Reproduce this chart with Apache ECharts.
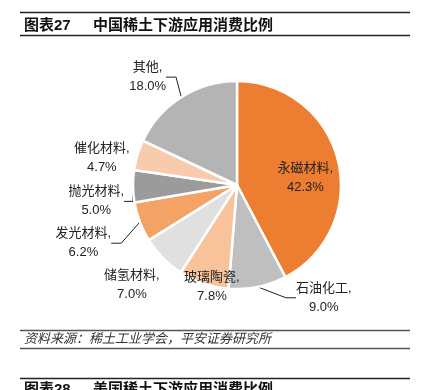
<!DOCTYPE html>
<html>
<head>
<meta charset="utf-8">
<script src="https://cdn.jsdelivr.net/npm/echarts@6/dist/echarts.min.js"></script>
<style>
html, body { margin: 0; padding: 0; background: #fff; }
#main { width: 426px; height: 390px; }
</style>
</head>
<body>
<div id="main"></div>
<script>
// 数据
var categories = ['永磁材料', '石油化工', '玻璃陶瓷', '储氢材料', '发光材料', '抛光材料', '催化材料', '其他'];
var shares = [42.3, 9.0, 7.8, 7.0, 6.2, 5.0, 4.7, 18.0];
var sliceColors = ['#ED7D31', '#BFBFBF', '#F8C39B', '#E0E0E0', '#F4A366', '#9B9B9B', '#F8CBAD', '#B4B4B4'];
// 标签微调（相对默认位置的偏移）和是否显示引导线
var labelShift = [[15, 6], [22, 5], [53, -2], [16, 23], [-8, 19], [12, 15], [13, 5], [3, -15]];
var showLeader = [false, true, false, false, true, true, false, true];

var FONT = 'Liberation Sans, Noto Sans CJK SC, sans-serif';
var myChart = echarts.init(document.getElementById('main'));

var pieData = categories.map(function (name, i) {
  var item = {
    name: name,
    value: shares[i],
    itemStyle: { color: sliceColors[i] },
    labelLine: { show: showLeader[i] }
  };
  if (i === 0) {
    item.label = { position: 'inside' };
  }
  return item;
});

var option = {
  animation: false,
  backgroundColor: '#fff',
  graphic: [
    { type: 'line', shape: { x1: 20, y1: 12.5, x2: 410, y2: 12.5 }, style: { stroke: '#222', lineWidth: 1.5 } },
    { type: 'text', left: 24, top: 18, style: { text: '图表27', font: 'bold 15px ' + FONT, fill: '#111' } },
    { type: 'text', left: 93, top: 18, style: { text: '中国稀土下游应用消费比例', font: 'bold 15px ' + FONT, fill: '#111' } },
    { type: 'line', shape: { x1: 20, y1: 35.5, x2: 410, y2: 35.5 }, style: { stroke: '#222', lineWidth: 1.5 } },
    { type: 'line', shape: { x1: 20, y1: 330.5, x2: 410, y2: 330.5 }, style: { stroke: '#555', lineWidth: 1.5 } },
    { type: 'text', left: 24, top: 333, style: { text: '资料来源：稀土工业学会，平安证券研究所', font: 'italic 13px ' + FONT, fill: '#333' } },
    { type: 'line', shape: { x1: 20, y1: 348.5, x2: 410, y2: 348.5 }, style: { stroke: '#555', lineWidth: 1.5 } },
    { type: 'line', shape: { x1: 20, y1: 378.5, x2: 410, y2: 378.5 }, style: { stroke: '#222', lineWidth: 1.5 } },
    { type: 'text', left: 24, top: 382, style: { text: '图表28', font: 'bold 15px ' + FONT, fill: '#111' } },
    { type: 'text', left: 93, top: 382, style: { text: '美国稀土下游应用消费比例', font: 'bold 15px ' + FONT, fill: '#111' } }
  ],
  series: [{
    type: 'pie',
    center: [237, 185],
    radius: 104,
    startAngle: 90,
    clockwise: true,
    avoidLabelOverlap: false,
    itemStyle: { borderColor: '#fff', borderWidth: 2.5 },
    label: {
      show: true,
      position: 'outside',
      color: '#222',
      fontSize: 13,
      lineHeight: 19,
      fontFamily: FONT,
      formatter: function (p) { return p.name + ',\n' + p.value.toFixed(1) + '%'; }
    },
    labelLine: { show: true, length: 6, length2: 10, lineStyle: { color: '#222', width: 1 } },
    labelLayout: function (params) {
      var s = labelShift[params.dataIndex];
      var r = params.labelRect;
      return {
        hideOverlap: false,
        moveOverlap: false,
        align: 'center',
        verticalAlign: 'middle',
        x: r.x + r.width / 2 + s[0],
        y: r.y + r.height / 2 + s[1]
      };
    },
    data: pieData
  }]
};

myChart.setOption(option);
</script>
</body>
</html>
